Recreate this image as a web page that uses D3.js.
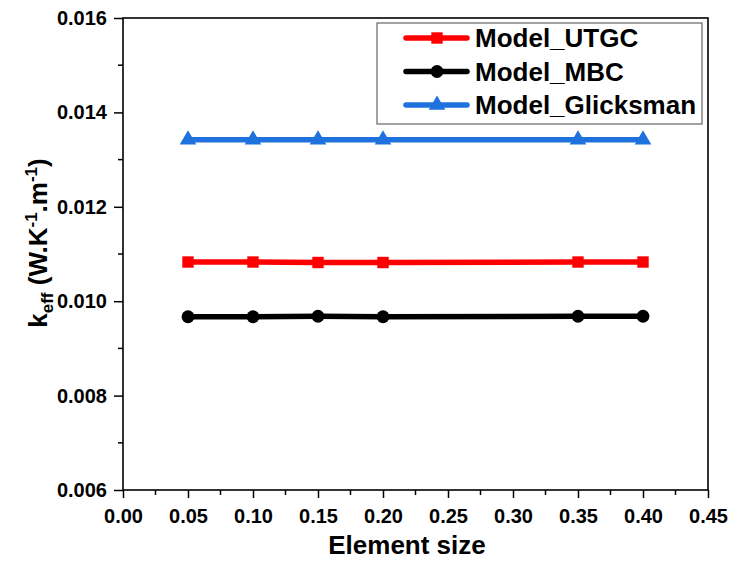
<!DOCTYPE html>
<html lang="en">
<head>
  <meta charset="UTF-8">
  <title>k_eff vs element size</title>
  <script src="https://d3js.org/d3.v7.min.js"></script>
  <style>
    body { margin: 0; background: #fff; }
    svg { display: block; }
    text { font-family: "Liberation Sans", Arial, sans-serif; font-weight: bold; }
  </style>
</head>
<body>
  <svg id="chart" width="729" height="562"></svg>

  <script>
    // data
    const elementSize = [0.05, 0.10, 0.15, 0.20, 0.35, 0.40];
    const utgc = [0.01083, 0.01083, 0.01082, 0.01082, 0.01083, 0.01083];
    const mbc = [0.00967, 0.00967, 0.00968, 0.00967, 0.00968, 0.00968];
    const glicksman = [0.01342, 0.01342, 0.01342, 0.01342, 0.01342, 0.01342];
    const xTicks = [0, 0.05, 0.10, 0.15, 0.20, 0.25, 0.30, 0.35, 0.40, 0.45];
    const yTicks = [0.006, 0.008, 0.010, 0.012, 0.014, 0.016];

    const series = [
      { name: "Model_UTGC", values: utgc, color: "#ff0000", symbol: d3.symbolSquare, size: 130 },
      { name: "Model_MBC", values: mbc, color: "#000000", symbol: d3.symbolCircle, size: 130 },
      { name: "Model_Glicksman", values: glicksman, color: "#1f72de", symbol: d3.symbolTriangle, size: 120 }
    ];

    const svg = d3.select("#chart");
    const margin = { left: 123, top: 18, right: 21, bottom: 72 };
    const W = 729, H = 562;

    const x = d3.scaleLinear().domain([0, 0.45]).range([margin.left, W - margin.right]);
    const y = d3.scaleLinear().domain([0.006, 0.016]).range([H - margin.bottom, margin.top]);

    // minor ticks
    const xMinor = d3.range(0.025, 0.45, 0.05);
    const yMinor = d3.range(0.007, 0.016, 0.002);

    svg.append("g").selectAll("line").data(xMinor).join("line")
      .attr("x1", d => x(d)).attr("x2", d => x(d))
      .attr("y1", y(0.006)).attr("y2", y(0.006) + 5)
      .attr("stroke", "#000").attr("stroke-width", 1.5);
    svg.append("g").selectAll("line").data(yMinor).join("line")
      .attr("x1", x(0)).attr("x2", x(0) - 5)
      .attr("y1", d => y(d)).attr("y2", d => y(d))
      .attr("stroke", "#000").attr("stroke-width", 1.5);

    // axes
    const xAxis = svg.append("g")
      .attr("transform", `translate(0,${y(0.006)})`)
      .call(d3.axisBottom(x).tickValues(xTicks).tickFormat(d3.format(".2f")).tickSize(8).tickPadding(11));
    const yAxis = svg.append("g")
      .attr("transform", `translate(${x(0)},0)`)
      .call(d3.axisLeft(y).tickValues(yTicks).tickFormat(d3.format(".3f")).tickSize(9).tickPadding(7));

    [xAxis, yAxis].forEach(a => {
      a.select(".domain").remove();
      a.selectAll(".tick line").attr("stroke-width", 1.5);
      a.selectAll(".tick text").attr("font-size", 20).attr("fill", "#000");
    });

    // frame
    svg.append("rect")
      .attr("x", x(0)).attr("y", y(0.016))
      .attr("width", x(0.45) - x(0)).attr("height", y(0.006) - y(0.016))
      .attr("fill", "none").attr("stroke", "#000").attr("stroke-width", 1.6);

    // lines and markers
    const line = d3.line().x((d, i) => x(elementSize[i])).y(d => y(d));
    series.forEach(s => {
      const g = svg.append("g");
      g.append("path")
        .attr("d", line(s.values))
        .attr("fill", "none").attr("stroke", s.color).attr("stroke-width", 5.5);
      g.selectAll("path.m").data(s.values).join("path")
        .attr("class", "m")
        .attr("transform", (d, i) => `translate(${x(elementSize[i])},${y(d)})`)
        .attr("d", d3.symbol().type(s.symbol).size(s.size))
        .attr("fill", s.color);
    });

    // legend
    const legend = svg.append("g");
    legend.append("rect")
      .attr("x", 377).attr("y", 23).attr("width", 325).attr("height", 101)
      .attr("fill", "#fff").attr("stroke", "#666").attr("stroke-width", 1.2);
    series.forEach((s, i) => {
      const ly = 38 + i * 33.5;
      legend.append("line")
        .attr("x1", 406).attr("x2", 467).attr("y1", ly).attr("y2", ly)
        .attr("stroke", s.color).attr("stroke-width", 5.5).attr("stroke-linecap", "round");
      legend.append("path")
        .attr("transform", `translate(437,${ly})`)
        .attr("d", d3.symbol().type(s.symbol).size(s.size))
        .attr("fill", s.color);
      legend.append("text")
        .attr("x", 475).attr("y", ly).attr("dy", "0.36em")
        .attr("font-size", 26).attr("fill", "#000")
        .text(s.name);
    });

    // axis titles
    svg.append("text")
      .attr("x", 407).attr("y", 554)
      .attr("text-anchor", "middle").attr("font-size", 26)
      .text("Element size");

    const yt = svg.append("text")
      .attr("transform", `translate(47,243) rotate(-90)`)
      .attr("text-anchor", "middle").attr("font-size", 26);
    yt.append("tspan").text("k");
    yt.append("tspan").attr("font-size", 17).attr("dy", 6).text("eff");
    yt.append("tspan").attr("dy", -6).text(" (W.K");
    yt.append("tspan").attr("font-size", 17).attr("dy", -10).text("-1");
    yt.append("tspan").attr("dy", 10).text(".m");
    yt.append("tspan").attr("font-size", 17).attr("dy", -10).text("-1");
    yt.append("tspan").attr("dy", 10).text(")");
  </script>
</body>
</html>
